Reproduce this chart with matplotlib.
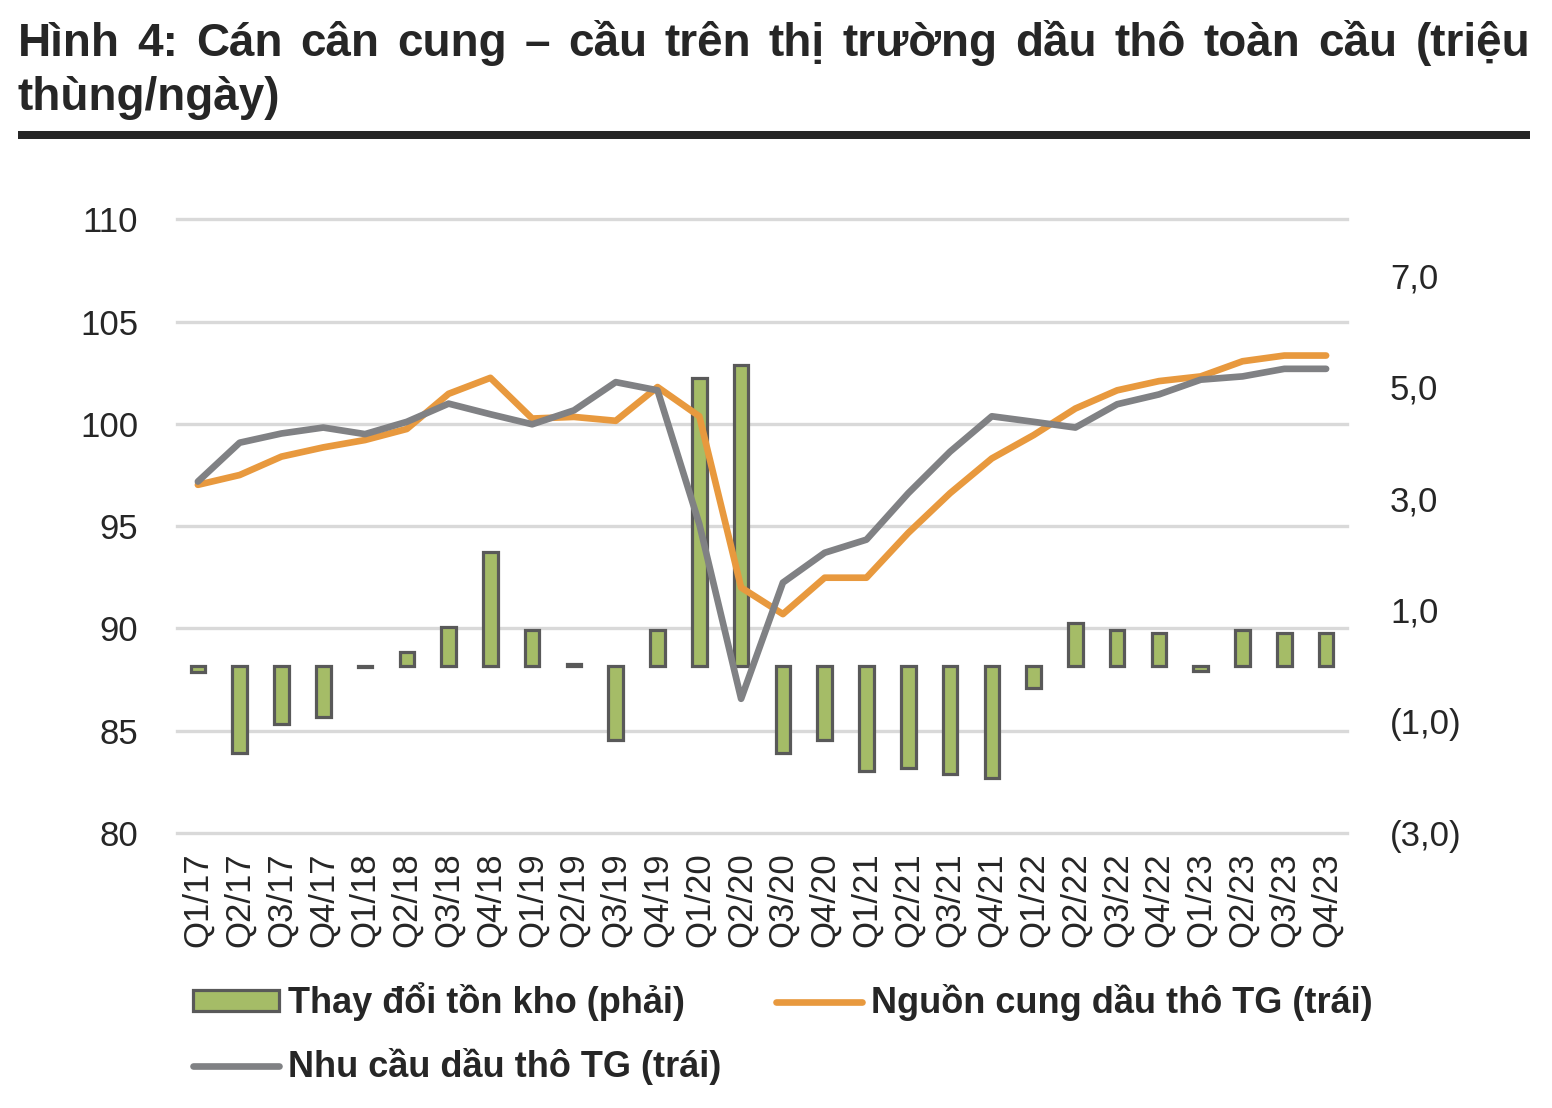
import matplotlib
matplotlib.use("Agg")
import matplotlib.pyplot as plt
from matplotlib.patches import Patch
from matplotlib.lines import Line2D
import numpy as np

plt.rcParams['font.family'] = ['Liberation Sans', 'DejaVu Sans']

quarters = ["Q1/17", "Q2/17", "Q3/17", "Q4/17", "Q1/18", "Q2/18", "Q3/18", "Q4/18",
            "Q1/19", "Q2/19", "Q3/19", "Q4/19", "Q1/20", "Q2/20", "Q3/20", "Q4/20",
            "Q1/21", "Q2/21", "Q3/21", "Q4/21", "Q1/22", "Q2/22", "Q3/22", "Q4/22",
            "Q1/23", "Q2/23", "Q3/23", "Q4/23"]

inventory_change = [-0.11, -1.56, -1.04, -0.92, -0.03, 0.24, 0.70, 2.04,
                    0.64, 0.03, -1.34, 0.64, 5.15, 5.39, -1.56, -1.33,
                    -1.89, -1.84, -1.95, -2.02, -0.40, 0.76, 0.64, 0.58,
                    -0.10, 0.64, 0.58, 0.58]

supply = [97.02, 97.50, 98.40, 98.85, 99.21, 99.75, 101.47, 102.25,
          100.26, 100.34, 100.15, 101.80, 100.37, 92.00, 90.70, 92.48,
          92.48, 94.67, 96.61, 98.31, 99.45, 100.75, 101.64, 102.09,
          102.32, 103.06, 103.34, 103.34]

demand = [97.18, 99.08, 99.53, 99.82, 99.50, 100.10, 100.99, 100.47,
          99.98, 100.66, 102.04, 101.64, 95.10, 86.56, 92.24, 93.70,
          94.34, 96.61, 98.64, 100.37, 100.10, 99.82, 100.96, 101.44,
          102.16, 102.32, 102.69, 102.69]

left_ticks = [80, 85, 90, 95, 100, 105, 110]
right_ticks = [-3, -1, 1, 3, 5, 7]
right_labels = ["(3,0)", "(1,0)", "1,0", "3,0", "5,0", "7,0"]

title_line1 = "Hình 4: Cán cân cung – cầu trên thị trường dầu thô toàn cầu (triệu"
title_line2 = "thùng/ngày)"
legend_labels = ["Thay đổi tồn kho (phải)", "Nhu cầu dầu thô TG (trái)",
                 "Nguồn cung dầu thô TG (trái)"]

C_TEXT = "#262626"
C_ORANGE = "#E8993E"
C_GRAY = "#808184"
C_BAR = "#A5BC67"
C_EDGE = "#595959"
C_GRID = "#D9D9D9"

W, H = 1552, 1108
fig = plt.figure(figsize=(W / 100, H / 100), dpi=100)

left_px, right_px, top_px, bot_px = 177, 1347, 219.3, 833
rect = [left_px / W, 1 - bot_px / H, (right_px - left_px) / W, (bot_px - top_px) / H]

ax_bar = fig.add_axes(rect)
ax_line = fig.add_axes(rect, sharex=ax_bar)
ax_line.patch.set_visible(False)

x = np.arange(len(quarters))

# gridlines (drawn in the lower axes so bars sit on top)
for t in left_ticks:
    f = (t - left_ticks[0]) / (left_ticks[-1] - left_ticks[0])
    ax_bar.plot([0, 1], [f, f], transform=ax_bar.transAxes, color=C_GRID,
                lw=2.4, zorder=0, clip_on=False)

ax_bar.bar(x, inventory_change, width=0.35, color=C_BAR, edgecolor=C_EDGE,
           linewidth=2.3, zorder=2)
ax_bar.set_ylim(-3, 8)
ax_bar.set_yticks(right_ticks)
ax_bar.set_yticklabels(right_labels)
ax_bar.yaxis.tick_right()
ax_bar.tick_params(axis='y', length=0, pad=31, labelsize=25, labelcolor=C_TEXT)
ax_bar.tick_params(axis='x', length=0, labelbottom=False)

ax_line.plot(x, supply, color=C_ORANGE, lw=4.8, solid_capstyle='round',
             solid_joinstyle='round', zorder=3)
ax_line.plot(x, demand, color=C_GRAY, lw=4.8, solid_capstyle='round',
             solid_joinstyle='round', zorder=4)
ax_line.set_ylim(80, 110)
ax_line.set_yticks(left_ticks)
ax_line.tick_params(axis='y', length=0, pad=28, labelsize=25, labelcolor=C_TEXT)
ax_line.set_xlim(-0.5, len(quarters) - 0.5)
ax_line.set_xticks(x)
ax_line.set_xticklabels(quarters, rotation=90)
ax_line.tick_params(axis='x', length=0, pad=14, labelsize=25, labelcolor=C_TEXT)

for a in (ax_bar, ax_line):
    for s in a.spines.values():
        s.set_visible(False)

# Title, justified first line
fig.canvas.draw()
renderer = fig.canvas.get_renderer()
x0, x1 = 18 / W, 1530 / W
y1 = 1 - 56 / H
y2 = 1 - 110 / H
words = title_line1.split(" ")
texts = [fig.text(0, y1, w, fontsize=33, fontweight='bold', color=C_TEXT, va='baseline')
         for w in words]
widths = [t.get_window_extent(renderer).width / W for t in texts]
gap = (x1 - x0 - sum(widths)) / (len(words) - 1)
cur = x0
for t, w in zip(texts, widths):
    t.set_x(cur)
    cur += w + gap
fig.text(x0, y2, title_line2, fontsize=33, fontweight='bold', color=C_TEXT, va='baseline')

fig.add_artist(plt.Rectangle((18 / W, 1 - 139 / H), (1530 - 18) / W, 8 / H,
                             transform=fig.transFigure, color=C_TEXT, lw=0))

handles = [Patch(facecolor=C_BAR, edgecolor=C_EDGE, linewidth=2.3),
           Line2D([0], [0], color=C_GRAY, lw=4.8, solid_capstyle='round'),
           Line2D([0], [0], color=C_ORANGE, lw=4.8, solid_capstyle='round')]
fig.legend(handles, legend_labels, loc='upper left',
           bbox_to_anchor=(160 / W, 1 - 950 / H), ncol=2, frameon=False,
           prop={'size': 26, 'weight': 'bold'}, handlelength=2.4,
           handleheight=0.5, handletextpad=0.25, columnspacing=1.5,
           labelspacing=0.75, labelcolor=C_TEXT)

fig.savefig("out.png", dpi=100)
